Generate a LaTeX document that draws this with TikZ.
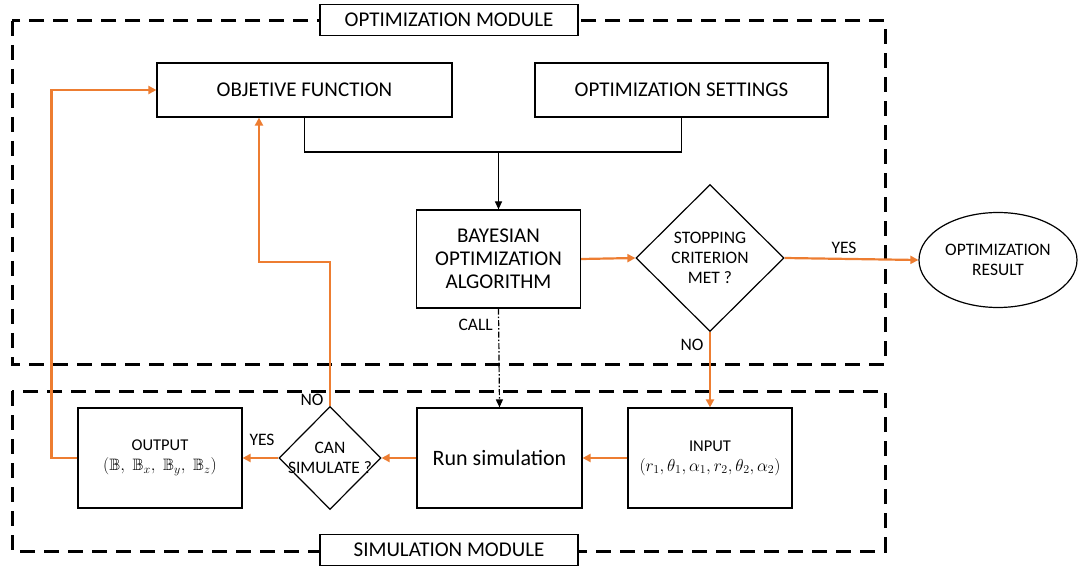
\documentclass[tikz,border=0pt]{standalone}
\usepackage{amssymb}
\usepackage{fontspec}
\setmainfont{Carlito}
\usetikzlibrary{arrows.meta,shapes.geometric}
\definecolor{flow}{RGB}{237,125,49}
\begin{document}
\begin{tikzpicture}[x=1pt,y=-1pt,
  modframe/.style={line width=3pt,dash pattern=on 15pt off 9pt},
  box/.style={draw,line width=1.2pt,fill=white,inner sep=0pt,align=center},
  bigtxt/.style={font=\fontsize{21}{23}\selectfont},
  midtxt/.style={font=\fontsize{17.5}{20}\selectfont},
  smltxt/.style={font=\fontsize{16.5}{20}\selectfont},
  decision/.style={draw,line width=1.2pt,diamond,fill=white,inner sep=0pt},
  oarrow/.style={draw=flow,line width=2.2pt,-{Triangle[length=8pt,width=8pt]}},
  barrow/.style={line width=1.2pt,-{Triangle[length=8pt,width=7pt]}},
  tag/.style={font=\fontsize{17.5}{20}\selectfont,inner sep=0pt}]
\useasboundingbox (0,0) rectangle (1079,569);

% module frames
\draw[modframe] (12,21) rectangle (885,364);
\draw[modframe] (12,391) rectangle (885,551);
\node[box,bigtxt,minimum width=258pt,minimum height=31pt] (optmod) at (449,20) {OPTIMIZATION MODULE};
\node[box,bigtxt,minimum width=258pt,minimum height=31pt] (simmod) at (449,550) {SIMULATION MODULE};

% optimization module blocks
\node[box,bigtxt,minimum width=295pt,minimum height=54pt] (objf) at (304.5,90) {OBJETIVE FUNCTION};
\node[box,bigtxt,minimum width=293pt,minimum height=54pt] (sett) at (681.5,90) {OPTIMIZATION SETTINGS};
\node[box,bigtxt,minimum width=164pt,minimum height=98pt] (bayes) at (498.5,259) {BAYESIAN\\OPTIMIZATION\\ALGORITHM};
\node[decision,minimum width=148pt,minimum height=147pt,
  label={[midtxt,align=center]center:STOPPING\\CRITERION\\MET ?}] (stop) at (710,258) {};
\node[draw,ellipse,line width=1.2pt,midtxt,align=center,inner sep=0pt,
  minimum width=158pt,minimum height=95pt] (res) at (998,260) {OPTIMIZATION\\RESULT};

% simulation module blocks
\node[box,smltxt,minimum width=164pt,minimum height=100pt] (input) at (710,458)
  {INPUT\\$(r_1,\theta_1,\alpha_1,r_2,\theta_2,\alpha_2)$};
\node[box,font=\fontsize{22}{26}\selectfont,minimum width=165pt,minimum height=100pt] (runs) at (499.5,458) {Run simulation};
\node[decision,minimum width=102pt,minimum height=103pt,
  label={[midtxt,align=center]center:CAN\\SIMULATE ?}] (cansim) at (330,458) {};
\node[box,smltxt,minimum width=164pt,minimum height=100pt] (output) at (160,458)
  {OUTPUT\\$(\mathbb{B},\;\mathbb{B}_x,\;\mathbb{B}_y,\;\mathbb{B}_z)$};

% settings and objective feed the optimizer
\coordinate (merge) at (bayes.north |- 0,152);
\draw[line width=1.2pt] (objf.south) |- (merge) -| (sett.south);
\draw[barrow] (merge) -- (bayes.north);

% optimization loop
\draw[oarrow] (bayes.east) -- (stop.west);
\draw[oarrow] (stop.east) -- (res.west);
\node[tag] (yesres) at (844,248) {YES};
\draw[oarrow] (stop.south) -- (input.north);
\node[tag] (nostop) at (692,345) {NO};
\draw[line width=1.2pt,dash pattern=on 6pt off 2pt on 1.5pt off 2pt,-{Triangle[length=8pt,width=7pt]}] (bayes.south) -- (runs.north);
\node[tag,anchor=east] (call) at (493,325) {CALL};

% simulation chain
\draw[oarrow] (input.west) -- (runs.east);
\draw[oarrow] (runs.west) -- (cansim.east);
\draw[oarrow] (cansim.west) -- (output.east);
\node[tag] (yessim) at (262,440) {YES};
\coordinate (nobend) at (259,262);
\draw[oarrow] (cansim.north) |- (nobend) -- (nobend |- objf.south);
\node[tag] (nosim) at (312,400) {NO};
\draw[oarrow] (output.west) -- ++(-26,0) |- (objf.west);
\end{tikzpicture}
\end{document}
